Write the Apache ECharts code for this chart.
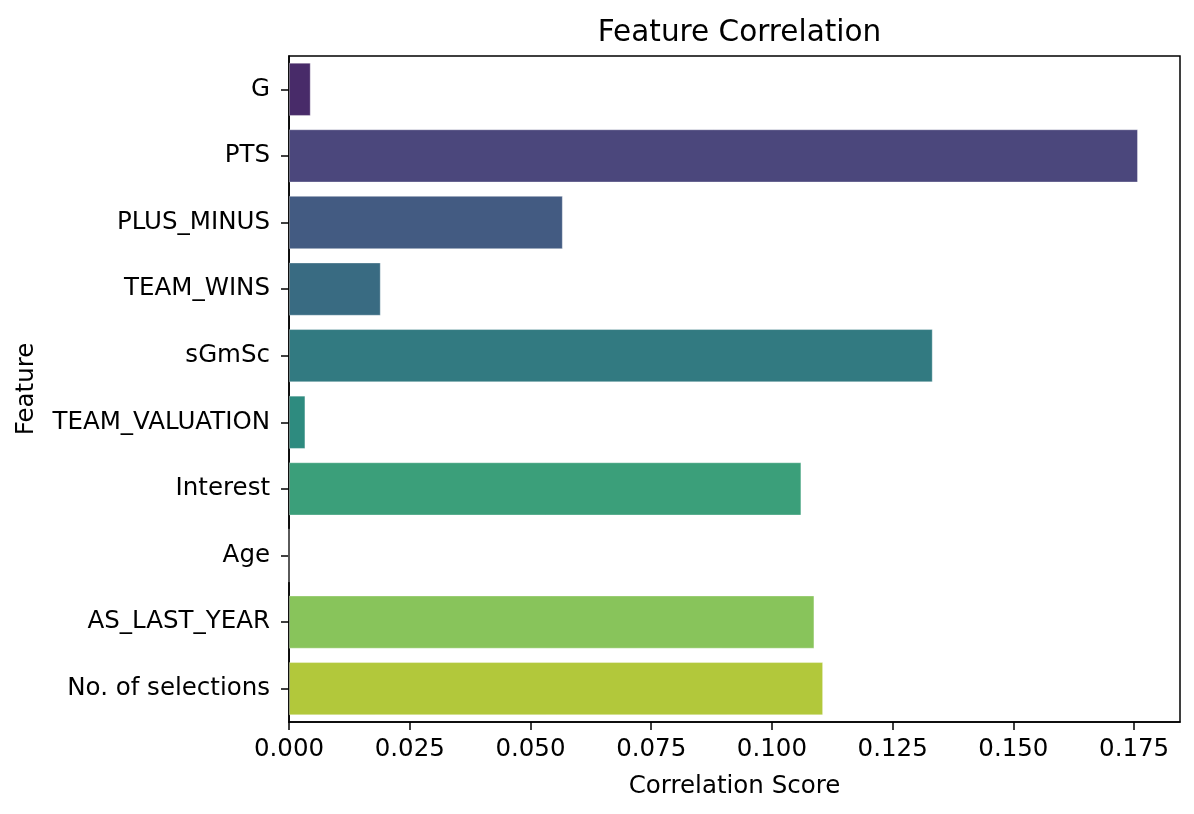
<!DOCTYPE html>
<html>
<head>
<meta charset="utf-8">
<script src="https://cdn.jsdelivr.net/npm/echarts@6/dist/echarts.min.js"></script>
<style>
html,body{margin:0;padding:0;background:#fff;}
#chart{width:1194px;height:814px;}
</style>
</head>
<body>
<div id="chart"></div>
<script>
const categories = ["G","PTS","PLUS_MINUS","TEAM_WINS","sGmSc","TEAM_VALUATION","Interest","Age","AS_LAST_YEAR","No. of selections"];
const scores = [0.0045, 0.1758, 0.0567, 0.0190, 0.1333, 0.0034, 0.1061, 0.0, 0.1088, 0.1106];
const barColors = ["#482b69","#4b477c","#435b82","#396b82","#327a81","#2e8b7f","#3b9f7a","#60b772","#88c45b","#b2c83b"];
const xTicks = [0, 0.025, 0.05, 0.075, 0.1, 0.125, 0.15, 0.175];
const xMax = 0.1845;

const font = "DejaVu Sans";
const chart = echarts.init(document.getElementById('chart'), null, {renderer:'canvas'});
chart.setOption({
  backgroundColor: '#ffffff',
  animation: false,
  title: {
    text: 'Feature Correlation',
    left: 734.5, top: 13, textAlign: 'center',
    textStyle: {fontFamily: font, fontSize: 29.5, fontWeight: 'normal', color: '#000'}
  },
  grid: {left: 289, right: 14, top: 56, bottom: 92, show: true, borderColor: '#000', borderWidth: 1.5, backgroundColor: 'transparent'},
  xAxis: {
    type: 'value', min: 0, max: xMax,
    name: 'Correlation Score', nameLocation: 'middle', nameGap: 52,
    nameTextStyle: {fontFamily: font, fontSize: 24.5, color: '#000'},
    axisLine: {show: true, lineStyle: {color: '#000', width: 1.5}},
    axisTick: {show: true, length: 8, customValues: xTicks, lineStyle: {color: '#000', width: 1.5}},
    axisLabel: {customValues: xTicks, fontFamily: font, fontSize: 24.5, color: '#000', margin: 15,
      formatter: v => v.toFixed(3)},
    splitLine: {show: false}
  },
  yAxis: {
    type: 'category', data: categories, inverse: true,
    name: 'Feature', nameLocation: 'middle', nameGap: 250, nameRotate: 90,
    nameTextStyle: {fontFamily: font, fontSize: 24.5, color: '#000'},
    axisLine: {show: true, lineStyle: {color: '#000', width: 1.5}},
    axisTick: {show: true, length: 8, alignWithLabel: true, lineStyle: {color: '#000', width: 1.5}},
    axisLabel: {fontFamily: font, fontSize: 24.5, color: '#000', margin: 19},
    splitLine: {show: false}
  },
  series: [{
    type: 'bar',
    data: scores.map((v, i) => ({value: v, itemStyle: {color: barColors[i]}})),
    barCategoryGap: '20%',
    itemStyle: {borderColor: 'rgba(255,255,255,0.35)', borderWidth: 1}
  }]
});
</script>
</body>
</html>
